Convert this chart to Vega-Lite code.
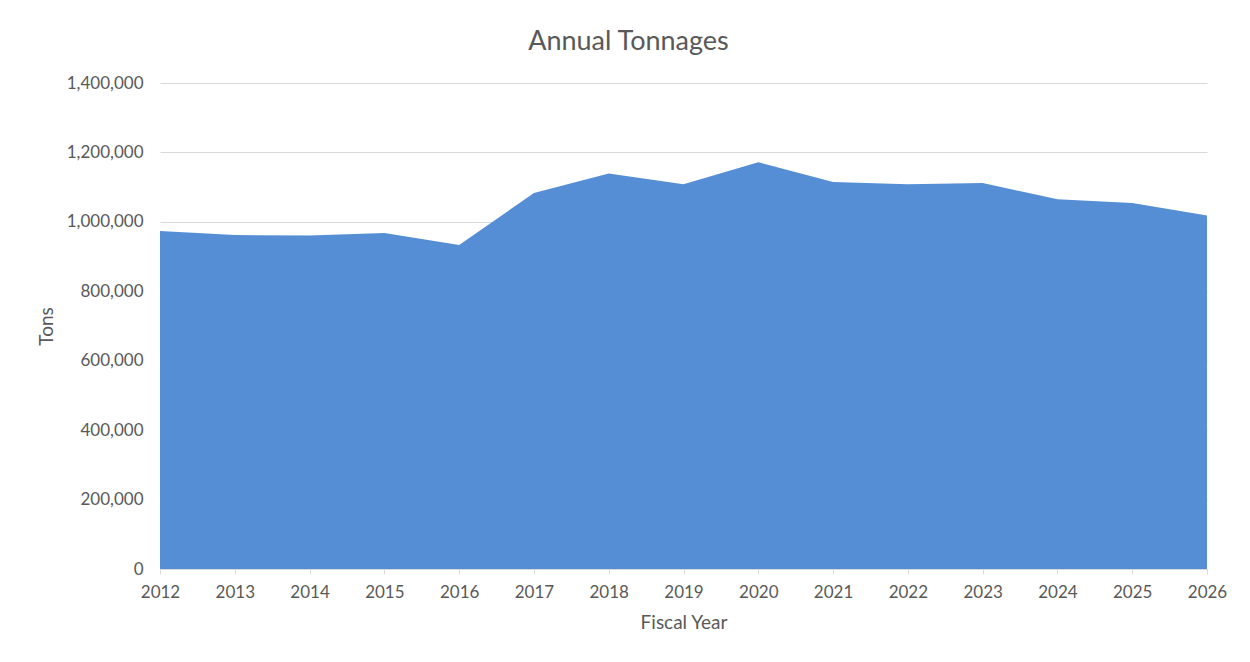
{
  "$schema": "https://vega.github.io/schema/vega-lite/v6.json",
  "autosize": {"type": "none"},
  "width": 1047,
  "height": 486,
  "padding": {"left": 160, "top": 83, "right": 43, "bottom": 93},
  "background": "white",
  "title": {
    "text": "Annual Tonnages",
    "fontSize": 27,
    "font": "Lato",
    "fontWeight": "normal",
    "color": "#595959",
    "anchor": "middle",
    "dx": -55,
    "offset": 18
  },
  "data": {
    "values": [
      {"year": 2012, "tons": 974000},
      {"year": 2013, "tons": 962000},
      {"year": 2014, "tons": 961000},
      {"year": 2015, "tons": 968000},
      {"year": 2016, "tons": 933000},
      {"year": 2017, "tons": 1083000},
      {"year": 2018, "tons": 1139000},
      {"year": 2019, "tons": 1108000},
      {"year": 2020, "tons": 1172000},
      {"year": 2021, "tons": 1115000},
      {"year": 2022, "tons": 1108000},
      {"year": 2023, "tons": 1112000},
      {"year": 2024, "tons": 1065000},
      {"year": 2025, "tons": 1054000},
      {"year": 2026, "tons": 1018000}
    ]
  },
  "mark": {"type": "area", "color": "#558ED5", "opacity": 1},
  "encoding": {
    "x": {
      "field": "year",
      "type": "quantitative",
      "title": "Fiscal Year",
      "scale": {"domain": [2012, 2026], "nice": false, "zero": false},
      "axis": {
        "values": [2012, 2013, 2014, 2015, 2016, 2017, 2018, 2019, 2020, 2021, 2022, 2023, 2024, 2025, 2026],
        "format": "d",
        "grid": false,
        "domainColor": "#D9D9D9",
        "tickColor": "#D9D9D9",
        "tickSize": 5,
        "labelPadding": 10,
        "titlePadding": 13,
        "labelFlush": false,
        "labelOverlap": false
      }
    },
    "y": {
      "field": "tons",
      "type": "quantitative",
      "title": "Tons",
      "scale": {"domain": [0, 1400000], "nice": false},
      "axis": {
        "values": [0, 200000, 400000, 600000, 800000, 1000000, 1200000, 1400000],
        "format": ",d",
        "domain": false,
        "ticks": false,
        "gridColor": "#D9D9D9",
        "labelPadding": 17,
        "titlePadding": 10
      }
    }
  },
  "config": {
    "view": {"stroke": null},
    "axis": {
      "labelFont": "Lato",
      "labelFontSize": 17,
      "labelColor": "#595959",
      "titleFont": "Lato",
      "titleFontSize": 19,
      "titleFontWeight": "normal",
      "titleColor": "#595959"
    }
  }
}
